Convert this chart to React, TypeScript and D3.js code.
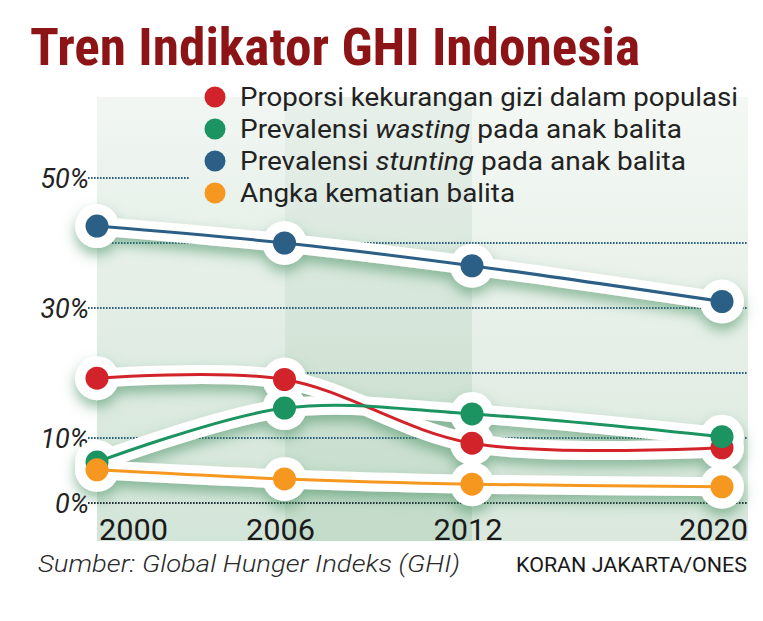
import * as d3 from 'd3';

const years = [2000, 2006, 2012, 2020];
const undernourishment = [19.2, 19.0, 9.2, 8.5];
const wasting = [6.3, 14.6, 13.7, 10.2];
const stunting = [42.6, 40.0, 36.5, 31.0];
const mortality = [5.1, 3.7, 2.9, 2.5];

const gridTicks = [0, 10, 20, 30, 40, 50];
const labelTicks = [0, 10, 30, 50];

// draw order: later series sit on top
const series = [
  { key: 'stunting', values: stunting, color: '#2b5f86' },
  { key: 'under', values: undernourishment, color: '#d2232a' },
  { key: 'wasting', values: wasting, color: '#1b9461' },
  { key: 'mortality', values: mortality, color: '#f6981f' },
];

const legend = [
  { color: '#d2232a', pre: 'Proporsi kekurangan gizi dalam populasi', it: '', post: '', w: 498 },
  { color: '#1b9461', pre: 'Prevalensi ', it: 'wasting', post: ' pada anak balita', w: 442 },
  { color: '#2b5f86', pre: 'Prevalensi ', it: 'stunting', post: ' pada anak balita', w: 446 },
  { color: '#f6981f', pre: 'Angka kematian balita', it: '', post: '', w: 275 },
];

const panelFills = [
  ['#f1f6f2', '#d3e5d8'],
  ['#e8f0ea', '#c3dbc9'],
  ['#f4f8f4', '#dae8dd'],
];

export default function App() {
  const W = 763;
  const H = 621;
  const x = d3.scaleLinear().domain([2000, 2020]).range([97, 722]);
  const y = d3.scaleLinear().domain([0, 50]).range([503, 178]);
  const right = 748;
  const top = 97;
  const bottom = 541;

  const line = d3
    .line<number>()
    .x((_, i) => x(years[i]))
    .y((d) => y(d))
    .curve(d3.curveCatmullRom.alpha(0.5));

  const edges = [x(2000), x(2006), x(2012), right];
  const font = 'Roboto, "Noto Sans", sans-serif';

  return (
    <svg width={W} height={H} style={{ position: 'absolute', left: 0, top: 0, background: '#fff' }}>
      <defs>
        {panelFills.map((c, i) => (
          <linearGradient key={i} id={`pg${i}`} x1="0" y1="0" x2="0" y2="1">
            <stop offset="0" stopColor={c[0]} />
            <stop offset="1" stopColor={c[1]} />
          </linearGradient>
        ))}
        <filter id="shadow" x="-20%" y="-20%" width="140%" height="160%">
          <feDropShadow dx="0" dy="7" stdDeviation="6.5" floodColor="#3f8d5d" floodOpacity="0.55" />
        </filter>
      </defs>

      {panelFills.map((_, i) => (
        <rect
          key={i}
          x={edges[i]}
          y={top}
          width={edges[i + 1] - edges[i]}
          height={bottom - top}
          fill={`url(#pg${i})`}
        />
      ))}

      <text
        x={30}
        y={65}
        fontFamily='"Liberation Sans Narrow", "Roboto Condensed", "Liberation Sans", Arial, sans-serif'
        fontWeight="bold"
        fontSize={51}
        fill="#8c1417"
        textLength={610}
        lengthAdjust="spacingAndGlyphs"
      >
        Tren Indikator GHI Indonesia
      </text>

      {gridTicks.map((t) => (
        <line
          key={t}
          x1={88}
          x2={t === 50 ? 190 : right}
          y1={y(t)}
          y2={y(t)}
          stroke={t === 0 ? '#1d2a33' : '#2d5e80'}
          strokeWidth={2}
          strokeDasharray="1.6,1.4"
        />
      ))}
      {labelTicks.map((t) => (
        <text
          key={t}
          x={89}
          y={y(t) + 10}
          textAnchor="end"
          fontFamily={font}
          fontStyle="italic"
          fontSize={27}
          fill="#222"
        >
          {t}%
        </text>
      ))}

      {legend.map((l, i) => (
        <g key={i} transform={`translate(0,${97 + i * 32})`}>
          <circle cx={215} cy={0} r={10.5} fill={l.color} />
          <text
            x={240}
            y={9}
            fontFamily={font}
            fontSize={25}
            fill="#222"
            textLength={l.w}
            lengthAdjust="spacingAndGlyphs"
          >
            {l.pre}
            {l.it && <tspan fontStyle="italic">{l.it}</tspan>}
            {l.post}
          </text>
        </g>
      ))}

      <g filter="url(#shadow)">
        {series.map((s) => (
          <g key={s.key}>
            <path d={line(s.values) ?? ''} fill="none" stroke="#fff" strokeWidth={19} strokeLinecap="round" />
            {s.values.map((v, i) => (
              <circle key={i} cx={x(years[i])} cy={y(v)} r={22} fill="#fff" />
            ))}
          </g>
        ))}
      </g>
      {series.map((s) => (
        <path key={s.key} d={line(s.values) ?? ''} fill="none" stroke={s.color} strokeWidth={3} />
      ))}
      {series.map((s) =>
        s.values.map((v, i) => (
          <circle key={s.key + i} cx={x(years[i])} cy={y(v)} r={11.5} fill={s.color} />
        ))
      )}

      {years.map((yr, i) => (
        <text
          key={yr}
          x={i === years.length - 1 ? right : i === 0 ? x(yr) + 2 : x(yr) - 4}
          y={540}
          textAnchor={i === 0 ? 'start' : i === years.length - 1 ? 'end' : 'middle'}
          fontFamily={font}
          fontSize={29}
          fill="#1a1a1a"
          textLength={69}
          lengthAdjust="spacingAndGlyphs"
        >
          {yr}
        </text>
      ))}

      <text
        x={38}
        y={572}
        fontFamily={font}
        fontStyle="italic"
        fontWeight={300}
        fontSize={23}
        fill="#2a2a2a"
        textLength={422}
        lengthAdjust="spacingAndGlyphs"
      >
        Sumber: Global Hunger Indeks (GHI)
      </text>
      <text
        x={747}
        y={572}
        textAnchor="end"
        fontFamily={font}
        fontSize={20}
        fill="#1a1a1a"
        textLength={231}
        lengthAdjust="spacingAndGlyphs"
      >
        KORAN JAKARTA/ONES
      </text>
    </svg>
  );
}
